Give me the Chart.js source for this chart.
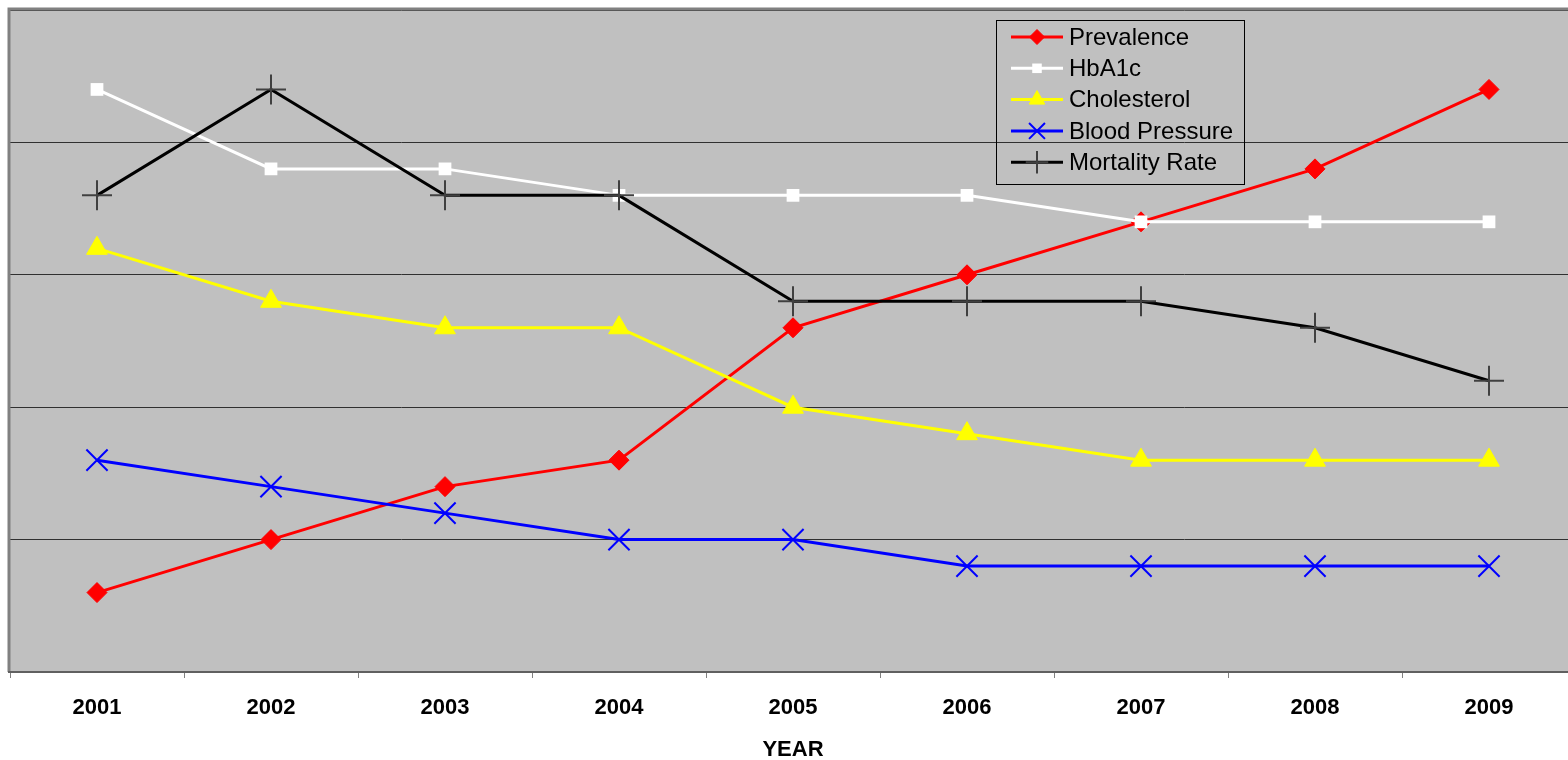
<!DOCTYPE html>
<html>
<head>
<meta charset="utf-8">
<script src="https://cdn.jsdelivr.net/npm/chart.js@4/dist/chart.umd.min.js"></script>
<style>
  html, body { margin: 0; padding: 0; background: #fff; overflow: hidden; }
  #wrap { width: 1576px; height: 760px; }
</style>
</head>
<body>
<div id="wrap"><canvas id="cv" width="1576" height="760"></canvas></div>
<script>
/* ── data (grid = 5 units) ── */
const years        = ['2001','2002','2003','2004','2005','2006','2007','2008','2009'];
const prevalence   = [3, 5, 7, 8, 13, 15, 17, 19, 22];
const hba1c        = [22, 19, 19, 18, 18, 18, 17, 17, 17];
const cholesterol  = [16, 14, 13, 13, 10, 9, 8, 8, 8];
const bloodPress   = [8, 7, 6, 5, 5, 4, 4, 4, 4];
const mortality    = [18, 22, 18, 18, 14, 14, 14, 13, 11];

const FONT = '"Liberation Sans", Arial, sans-serif';

/* series style: Excel-ish markers */
const series = [
  { label: 'Prevalence',     data: prevalence,  color: '#ff0000', style: 'rectRot',  r: 10, fill: '#ff0000', mk: '#ff0000', bw: 1 },
  { label: 'HbA1c',          data: hba1c,       color: '#ffffff', style: 'rect',     r: 9,  fill: '#ffffff', mk: '#ffffff', bw: 0 },
  { label: 'Cholesterol',    data: cholesterol, color: '#ffff00', style: 'triangle', r: 12, fill: '#ffff00', mk: '#ffff00', bw: 1 },
  { label: 'Blood Pressure', data: bloodPress,  color: '#0000ff', style: 'crossRot', r: 15, fill: '#0000ff', mk: '#0000ff', bw: 2 },
  { label: 'Mortality Rate', data: mortality,   color: '#000000', style: 'cross',    r: 15, fill: '#404040', mk: '#404040', bw: 2 },
];

/* ── plot background + frame ── */
const frame = {
  id: 'frame',
  beforeDraw(chart) {
    const { ctx, chartArea: a } = chart;
    ctx.save();
    ctx.fillStyle = '#c0c0c0';
    ctx.fillRect(a.left, a.top, a.right - a.left, a.bottom - a.top);
    ctx.restore();
  },
  afterDatasetsDraw(chart) {
    const { ctx, chartArea: a } = chart;
    ctx.save();
    ctx.strokeStyle = '#808080';
    ctx.lineWidth = 3;
    ctx.beginPath();
    ctx.moveTo(a.left - 1, a.bottom);
    ctx.lineTo(a.left - 1, a.top - 1);
    ctx.lineTo(a.right + 2, a.top - 1);
    ctx.stroke();
    ctx.strokeStyle = '#606060';
    ctx.lineWidth = 2;
    ctx.beginPath();
    ctx.moveTo(a.left - 2, a.bottom);
    ctx.lineTo(a.right + 2, a.bottom);
    ctx.stroke();
    ctx.restore();
  },
};

/* ── legend with line + marker samples ── */
const legendBox = {
  id: 'legendBox',
  afterDraw(chart) {
    const ctx = chart.ctx;
    const bx = 996, by = 20, bw = 248, bh = 164;
    ctx.save();
    ctx.strokeStyle = '#000';
    ctx.lineWidth = 1;
    ctx.strokeRect(bx + 0.5, by + 0.5, bw, bh);
    series.forEach((s, i) => {
      const y = 37 + i * 31.3;
      ctx.strokeStyle = s.color;
      ctx.lineWidth = 3;
      ctx.beginPath();
      ctx.moveTo(1011, y);
      ctx.lineTo(1063, y);
      ctx.stroke();
      ctx.fillStyle = s.fill;
      ctx.strokeStyle = s.mk;
      ctx.lineWidth = s.bw;
      Chart.helpers.drawPoint(ctx, { pointStyle: s.style, radius: s.r * 0.75, rotation: 0, borderWidth: s.bw }, 1037, y);
      ctx.fillStyle = '#000';
      ctx.font = '24px ' + FONT;
      ctx.textBaseline = 'middle';
      ctx.textAlign = 'left';
      ctx.fillText(s.label, 1069, y + 1);
    });
    ctx.restore();
  },
};

new Chart(document.getElementById('cv'), {
  type: 'line',
  data: {
    labels: years,
    datasets: series.map((s, i) => ({
      label: s.label,
      data: s.data,
      borderColor: s.color,
      borderWidth: 3,
      pointStyle: s.style,
      pointRadius: s.r,
      pointHoverRadius: s.r,
      pointBackgroundColor: s.fill,
      pointBorderColor: s.mk,
      pointBorderWidth: s.bw,
      tension: 0,
      fill: false,
      order: series.length - i,   /* later series on top, like the original */
    })),
  },
  options: {
    responsive: false,
    animation: false,
    layout: { autoPadding: false, padding: { left: 10, top: 10, right: 0, bottom: 0 } },
    plugins: {
      legend: { display: false },
      tooltip: { enabled: false },
      title: { display: false },
    },
    scales: {
      x: {
        offset: true,
        grid: { offset: true, drawOnChartArea: false, tickLength: 6, color: '#808080' },
        border: { display: false },
        ticks: { color: '#000', padding: 17, font: { family: FONT, size: 22, weight: 'bold' } },
        title: {
          display: true,
          text: 'YEAR',
          color: '#000',
          padding: { top: 0, bottom: -3 },
          font: { family: FONT, size: 22, weight: 'bold' },
        },
        afterFit(s) { s.height = 88; },
      },
      y: {
        min: 0,
        max: 25,
        ticks: { display: false, stepSize: 5 },
        grid: { drawTicks: false, color: '#303030', lineWidth: 1 },
        border: { display: false },
        afterFit(s) { s.width = 0; },
      },
    },
  },
  plugins: [frame, legendBox],
});
</script>
</body>
</html>
